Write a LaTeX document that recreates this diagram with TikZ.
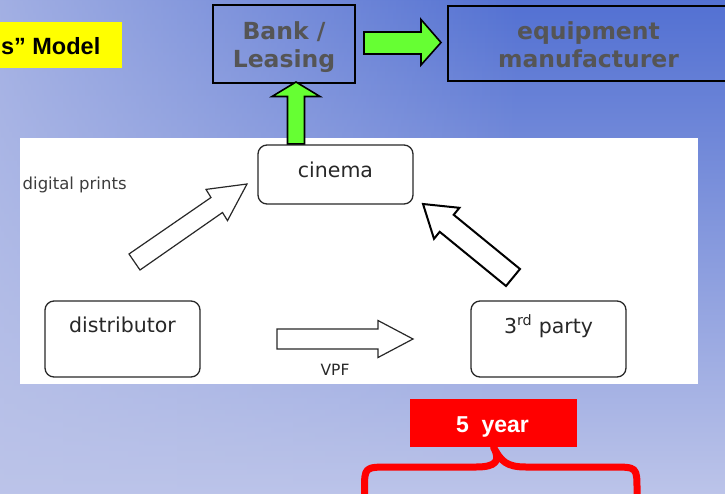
\documentclass[tikz,border=0pt]{standalone}
\usepackage{fontspec}
\setmainfont{DejaVu Sans}
\newfontfamily\arialfont{Liberation Sans}
\usetikzlibrary{fadings}
\definecolor{bgtop}{RGB}{82,112,210}
\definecolor{bgbot}{RGB}{188,196,233}
\definecolor{arrowgreen}{RGB}{102,255,51}
\definecolor{boxtext}{RGB}{85,85,85}
\definecolor{panelink}{RGB}{40,40,40}
\definecolor{slideyellow}{RGB}{255,255,0}
\definecolor{slidered}{RGB}{255,0,0}
\tikzfading[name=leftglow, left color=transparent!24, right color=transparent!100]
\tikzset{
  topbox/.style={draw=black, line width=1.6pt, fill=none, inner sep=0pt},
  toplabel/.style={text=boxtext, font=\fontsize{23.5}{27}\selectfont\bfseries, anchor=base, inner sep=0pt},
  panelbox/.style={draw=panelink, line width=1.3pt, rounded corners=9pt, fill=white, inner sep=0pt, minimum width=155pt},
  panellabel/.style={text=panelink, font=\fontsize{20.5}{24}\selectfont, anchor=base, inner sep=0pt},
  greenarrow/.style={fill=arrowgreen, draw=black, line width=1.6pt, line join=miter},
  blockarrow/.style={fill=white, draw=panelink, line width=1.2pt, line join=miter},
}
\begin{document}
\begin{tikzpicture}[x=1pt,y=-1pt]
\useasboundingbox (0,0) rectangle (725,493);
\clip (0,0) rectangle (725,493);
% background
\shade[top color=bgtop, bottom color=bgbot] (-2,-2) rectangle (727,495);
\fill[bgbot, path fading=leftglow] (-2,-2) rectangle (520,495);
% title fragment
\node[fill=slideyellow, minimum width=127pt, minimum height=46pt, inner sep=0pt] (title) at (58.5,45) {};
\node[font=\arialfont\fontsize{23.5}{27}\selectfont\bfseries, anchor=base east, inner sep=0pt] (titletext) at (100.5,54) {s” Model};
% top boxes
\node[topbox, minimum width=142pt, minimum height=78pt] (bank) at (284,44) {};
\node[toplabel] (bankA) at (284,39) {Bank /};
\node[toplabel] (bankB) at (284,67) {Leasing};
\node[topbox, minimum width=292pt, minimum height=75pt] (equip) at (594,43.5) {};
\node[toplabel] (equipA) at (588.5,39) {equipment};
\node[toplabel] (equipB) at (588.5,67) {manufacturer};
% green arrow bank -> equipment
\draw[greenarrow] (364,32) -- (421,32) -- (421,19.5) -- (441,42.5) -- (421,65) -- (421,54) -- (364,54) -- cycle;
% white panel
\fill[white] (20,138) rectangle (698,384);
% green arrow cinema -> bank
\draw[greenarrow] (287.5,144) -- (287.5,96.5) -- (272,96.5) -- (296,82) -- (320,96.5) -- (304.5,96.5) -- (304.5,144) -- cycle;
% panel boxes
\node[panelbox, minimum height=59pt] (cinema) at (335.5,174.5) {};
\node[panellabel] (cinemalabel) at (335.5,177) {cinema};
\node[panelbox, minimum height=76pt] (distributor) at (122.5,339) {};
\node[panellabel] (distlabel) at (122.5,332) {distributor};
\node[panelbox, minimum height=76pt] (third) at (548.5,339) {};
\node[panellabel] (thirdlabel) at (548.5,333) {3\textsuperscript{rd} party};
\node[text=panelink!90, font=\fontsize{16.5}{20}\selectfont, anchor=base west, inner sep=0pt] (prints) at (22.5,189.5) {digital prints};
% block arrows
\draw[blockarrow] (129,254) -- (211,197.5) -- (206,189.4) -- (247,184) -- (227.5,220.6) -- (222.5,212.5) -- (140,270) -- cycle;
\draw[blockarrow, draw=black, line width=2pt] (520,269) -- (453.7,214.8) -- (459.4,207.8) -- (423,204) -- (434,238.8) -- (439.7,231.8) -- (506,286) -- cycle;
\draw[blockarrow] (277,329) -- (378,329) -- (378,320.5) -- (413,339) -- (378,357.5) -- (378,349) -- (277,349) -- cycle;
\node[text=panelink, font=\fontsize{15.5}{18}\selectfont, anchor=base, inner sep=0pt] (vpf) at (335,375) {VPF};
% 5 year
\node[fill=slidered, minimum width=167pt, minimum height=48pt, inner sep=0pt] (years) at (493.5,423) {};
\node[text=white, font=\arialfont\fontsize{23}{27}\selectfont\bfseries, anchor=base, inner sep=0pt] (yearstext) at (492.5,432) {5~~year};
\coordinate (braceL) at (364.5,495);
\coordinate (braceR) at (637,495);
\draw[slidered, line width=7pt, line join=round]
  (braceL) -- (364.5,490) .. controls (364.5,467) .. (390,467) -- (476,467)
  .. controls (496,467) and (501,461) .. (years.south)
  .. controls (501,461) and (506,467) .. (526,467) -- (612,467)
  .. controls (637,467) .. (637,490) -- (braceR);
\end{tikzpicture}
\end{document}
